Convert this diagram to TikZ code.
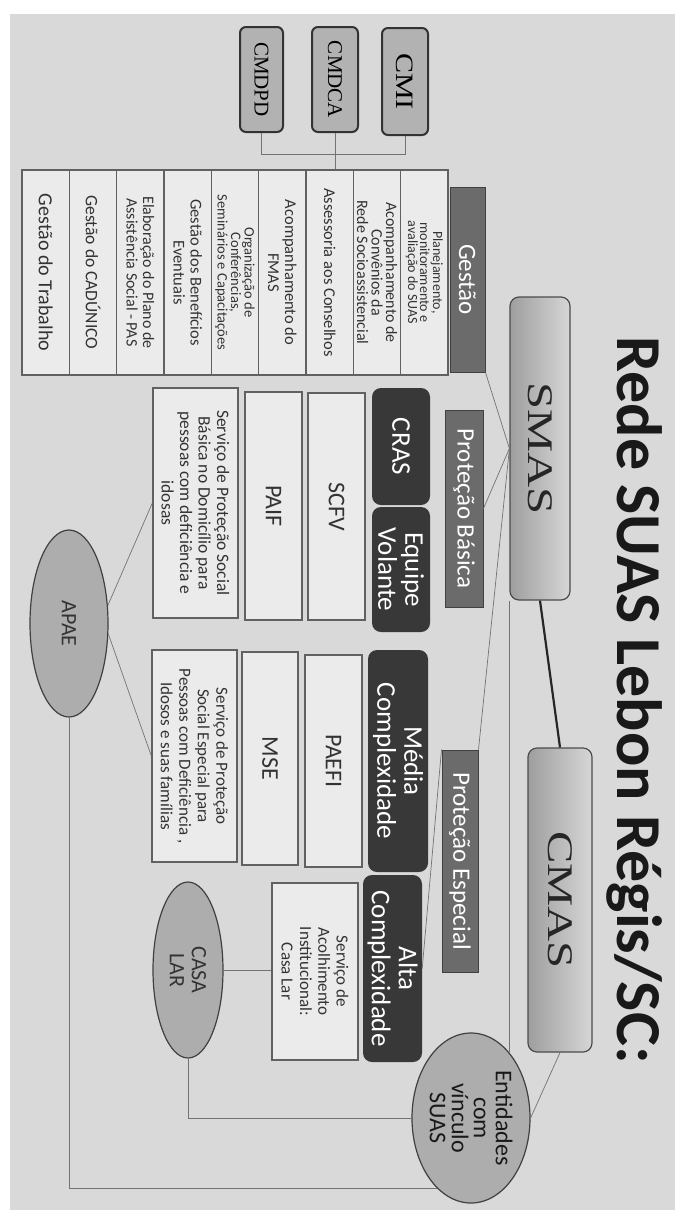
\documentclass[tikz,border=0pt]{standalone}
\usepackage{graphicx}
\usepackage{fontspec}
\setmainfont{Carlito}
\newfontfamily\serifa{Liberation Serif}
\usetikzlibrary{shapes.geometric}

\tikzset{
  conselho/.style={draw=black!80, line width=2pt, rounded corners=6pt, fill=black!30, inner sep=0pt, font=\serifa\fontsize{21}{24}\selectfont},
  orgao/.style={draw=black!70, line width=1.2pt, rounded corners=9pt, left color=black!38, right color=black!16, inner sep=0pt, font=\serifa\fontsize{36}{40}\selectfont, text=black!85},
  rotulo/.style={draw=black!75, line width=1pt, fill=black!58, text=white, inner sep=0pt, font=\fontsize{25}{28}\selectfont},
  bloco/.style={fill=black!78, rounded corners=9pt, text=white, inner sep=0pt, align=center, font=\fontsize{27}{27}\selectfont},
  servico/.style={draw=black!62, line width=1.3pt, fill=black!8, inner sep=0pt, align=center, text=black!80},
  entidade/.style={ellipse, draw=black!75, line width=1.2pt, fill=black!32, inner sep=0pt},
  liga/.style={draw=black!55, line width=0.7pt},
  ligaforte/.style={draw=black!85, line width=2.2pt},
}

\begin{document}
\begin{tikzpicture}[x=1pt, y=1pt, rotate=-90, transform shape]
    \useasboundingbox (0,0) rectangle (1224,690);
    \fill[black!15] (14,10) rectangle (1210,675);

    % titulo
    \node[anchor=base, text=black!90, font=\bfseries\fontsize{64}{70}\selectfont] (titulo) at (700,617) {Rede SUAS Lebon Régis/SC:};

    % orgaos
    \node[orgao, minimum width=303, minimum height=60] (smas) at (448.5,540) {\scalebox{1.35}[1]{SMAS}};
    \node[orgao, minimum width=304, minimum height=64] (cmas) at (900,560) {\scalebox{1.35}[1]{CMAS}};

    % conselhos
    \node[conselho, minimum width=107, minimum height=46, font=\serifa\fontsize{25}{28}\selectfont] (cmi) at (81.5,405) {\scalebox{1.2}[1]{CMI}};
    \node[conselho, minimum width=105, minimum height=46] (cmdca) at (79.5,335) {CMDCA};
    \node[conselho, minimum width=105, minimum height=43] (cmdpd) at (79.5,261.5) {CMDPD};

    % gestao
    \node[rotulo, minimum width=185, minimum height=35] (gestao) at (279.5,467.5) {Gestão};
    \foreach \n/\fs/\bs/\txt in {
        1/14/12/{Planejamento,\\monitoramento e\\avaliação do SUAS},
        2/16/14.5/{Acompanhamento de\\Convênios da\\Rede Socioassistencial},
        3/16.5/17/{Assessoria aos Conselhos},
        4/16.5/17/{Acompanhamento do\\FMAS},
        5/14.5/13.5/{Organização de\\Conferências,\\Seminários e Capacitações},
        6/16.5/17/{Gestão dos Benefícios\\Eventuais},
        7/16/16.5/{Elaboração do Plano de\\Assistência Social - PAS},
        8/17.5/18/{Gestão do CADÚNICO},
        9/20/22/{Gestão do Trabalho}}
      \node[servico, minimum width=205, minimum height=47.33, font=\fontsize{\fs}{\bs}\selectfont] (g\n) at (272.5,{448-(\n-0.5)*47.33}) {\txt};

    % protecao basica
    \node[rotulo, minimum width=197, minimum height=38] (pbas) at (508.5,464) {Proteção Básica};
    \node[bloco, minimum width=117, minimum height=58] (cras) at (446.5,401) {CRAS};
    \node[bloco, minimum width=125, minimum height=58] (volante) at (569.5,401) {Equipe\\Volante};
    \node[servico, minimum width=227, minimum height=57, font=\fontsize{24}{26}\selectfont] (scfv) at (506.5,336.5) {SCFV};
    \node[servico, minimum width=228, minimum height=57, font=\fontsize{24}{26}\selectfont] (paif) at (506,273.5) {PAIF};
    \node[servico, minimum width=230, minimum height=85, font=\fontsize{17.5}{18.5}\selectfont] (sbas) at (503,195.5) {Serviço de Proteção Social\\Básica no Domicílio para\\pessoas com deficiência e\\idosas};

    % protecao especial
    \node[rotulo, minimum width=222, minimum height=36] (pesp) at (861,460) {Proteção Especial};
    \node[bloco, minimum width=222, minimum height=60] (media) at (761,398) {Média\\Complexidade};
    \node[bloco, minimum width=187, minimum height=59] (alta) at (968.5,392.5) {Alta\\Complexidade};
    \node[servico, minimum width=212, minimum height=57, font=\fontsize{24}{26}\selectfont] (paefi) at (761,333.5) {PAEFI};
    \node[servico, minimum width=213, minimum height=56, font=\fontsize{24}{26}\selectfont] (mse) at (758.5,270) {MSE};
    \node[servico, minimum width=212, minimum height=85, font=\fontsize{17}{18.5}\selectfont] (sesp) at (756,194.5) {Serviço de Proteção\\Social Especial para\\Pessoas com Deficiência ,\\Idosos e suas famílias};
    \node[servico, minimum width=177, minimum height=86, font=\fontsize{17}{18.3}\selectfont] (cbox) at (971.5,315) {Serviço de\\Acolhimento\\Institucional:\\Casa Lar};

    % entidades
    \node[entidade, minimum width=187, minimum height=78, font=\fontsize{22}{24}\selectfont, text=black!80] (apae) at (623.5,69) {APAE};
    \node[entidade, minimum width=176, minimum height=70, font=\fontsize{22}{22}\selectfont, align=center, text=black!80] (casalar) at (970,188) {CASA\\LAR};
    \node[entidade, minimum width=170, minimum height=118] (ent) at (1118,471) {};
    \node[align=center, text=black!90, font=\fontsize{24}{22}\selectfont] (enttxt) at (ent.center) {Entidades\\com\\vínculo\\SUAS};

    % ligacoes
    \draw[liga] (cmdpd.east) -- ++(21,0) |- (cmi.east);
    \draw[liga] (cmdca.east) -- (cmdca.east -| g3.west);
    \draw[ligaforte] (smas.east) -- (cmas.west);
    \draw[liga] (smas.south) -- (gestao.north east);
    \draw[liga] (smas.south) -- (pbas.north);
    \draw[liga] (smas.south) -- (pesp.north west);
    \draw[liga] (pesp.south west) -- (alta.north);
    \draw[liga] (smas.south east) -- (smas.south east -| ent.150);
    \draw[liga] (cmas.east) -- (ent.north);
    \draw[liga] (apae.115) -- (sbas.south);
    \draw[liga] (apae.75) -- (sesp.south);
    \draw[liga] (apae.east) -| (ent.334);
    \draw[liga] (casalar.north) -- (casalar.north |- cbox.south);
    \draw[liga] (casalar.east) -| (ent.south);
\end{tikzpicture}
\end{document}
